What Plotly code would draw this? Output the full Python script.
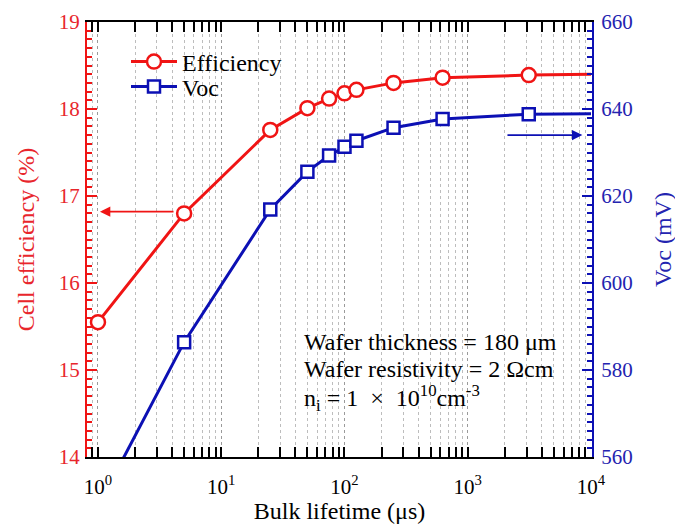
import plotly.graph_objects as go

# Data
lifetime = [1, 5, 25, 50, 75, 100, 125, 250, 625, 3125]
efficiency = [15.55, 16.80, 17.76, 18.01, 18.12, 18.18, 18.22, 18.30, 18.36, 18.39]
voc = [548.6, 586.4, 616.9, 625.6, 629.3, 631.3, 632.7, 635.7, 637.7, 638.8]
end_lifetime = 10000
end_efficiency = 18.40
end_voc = 638.9

x_tickvals = [1, 10, 100, 1000, 10000]
x_ticktext = ["10<sup>0</sup>", "10<sup>1</sup>", "10<sup>2</sup>", "10<sup>3</sup>", "10<sup>4</sup>"]

RED = "#f01414"
RED_T = "#e8262c"
BLUE = "#0c10b4"
BLUE_T = "#2424b0"
FONT = "Liberation Serif"

# page body has an 8px margin -> figure is drawn 8px right/down
L, T, R, B = 79, 14, 91, 67
W, H = 675, 516
PW, PH = W - L - R, H - T - B


def px_x(x):
    return (x - 8 - L) / PW


def px_y(y):
    return 1 - (y - 8 - T) / PH


fig = go.Figure()

# continuation lines to the right edge
fig.add_trace(go.Scatter(x=[lifetime[-1], end_lifetime], y=[efficiency[-1], end_efficiency],
                         mode="lines", line=dict(color=RED, width=3), showlegend=False, hoverinfo="skip"))
fig.add_trace(go.Scatter(x=[lifetime[-1], end_lifetime], y=[voc[-1], end_voc], yaxis="y2",
                         mode="lines", line=dict(color=BLUE, width=3), showlegend=False, hoverinfo="skip"))

fig.add_trace(go.Scatter(x=lifetime, y=efficiency, name="Efficiency", mode="lines+markers",
                         legend="legend",
                         line=dict(color=RED, width=3),
                         marker=dict(symbol="circle", size=14, color="white",
                                     line=dict(color=RED, width=2.5))))
fig.add_trace(go.Scatter(x=lifetime, y=voc, name="Voc", mode="lines+markers", yaxis="y2",
                         legend="legend2",
                         line=dict(color=BLUE, width=3),
                         marker=dict(symbol="square", size=12, color="white",
                                     line=dict(color=BLUE, width=2.5))))

leg_common = dict(xanchor="left", yanchor="middle", bgcolor="rgba(0,0,0,0)",
                  font=dict(size=24, color="black"), itemwidth=46)

fig.update_layout(
    width=W, height=H,
    margin=dict(l=L, r=R, t=T, b=B),
    paper_bgcolor="white", plot_bgcolor="white",
    font=dict(family=FONT, size=24, color="black"),
    showlegend=True,
    legend=dict(x=px_x(126), y=px_y(62), **leg_common),
    legend2=dict(x=px_x(126), y=px_y(87), **leg_common),
    xaxis=dict(
        type="log", range=[-0.089, 4.008], automargin=False,
        tickvals=x_tickvals, ticktext=x_ticktext,
        ticks="inside", ticklen=10, tickwidth=1.5, tickcolor="black",
        showline=True, linecolor="black", linewidth=2, mirror="allticks",
        showgrid=True, gridcolor="#9a9a9a", griddash="dot", gridwidth=1,
        minor=dict(ticks="inside", ticklen=6, tickwidth=1.5, tickcolor="black",
                   dtick="D1", showgrid=True, gridcolor="#bdbdbd", griddash="dot", gridwidth=1),
        tickfont=dict(size=21, color="black"),
        ticklabelstandoff=10,
        title=dict(text="Bulk lifetime (μs)", font=dict(size=24, color="black"), standoff=6),
        zeroline=False,
    ),
    yaxis=dict(
        range=[14, 19], dtick=1, automargin=False,
        ticks="inside", ticklen=10, tickwidth=1.5, tickcolor=RED,
        showline=True, linecolor=RED, linewidth=2,
        showgrid=False, zeroline=False,
        minor=dict(ticks="inside", dtick=0.1, ticklen=5, tickwidth=1.5, tickcolor=RED),
        tickfont=dict(size=21, color=RED_T),
        ticklabelstandoff=1,
        title=dict(text="Cell efficiency (%)", font=dict(size=24, color=RED_T), standoff=17),
    ),
    yaxis2=dict(
        overlaying="y", side="right", automargin=False,
        range=[560, 660], dtick=20,
        ticks="inside", ticklen=10, tickwidth=1.5, tickcolor=BLUE,
        showline=True, linecolor=BLUE, linewidth=2,
        showgrid=False, zeroline=False,
        minor=dict(ticks="inside", dtick=2, ticklen=5, tickwidth=1.5, tickcolor=BLUE),
        tickfont=dict(size=21, color=BLUE_T),
        ticklabelstandoff=3,
        title=dict(text="Voc (mV)", font=dict(size=24, color=BLUE_T), standoff=22),
    ),
)

# arrows pointing to the respective axes
fig.add_annotation(x=0.016, y=16.82, ax=0.625, ay=16.82, xref="x", yref="y", axref="x", ayref="y",
                   text="", showarrow=True, arrowhead=2, arrowsize=1.3, arrowwidth=1.6, arrowcolor=RED)
fig.add_annotation(x=3.93, y=634.0, ax=3.31, ay=634.0, xref="x", yref="y2", axref="x", ayref="y2",
                   text="", showarrow=True, arrowhead=2, arrowsize=1.3, arrowwidth=1.6, arrowcolor=BLUE)

# info text
info_lines = [
    "Wafer thickness = 180 μm",
    "Wafer resistivity = 2 Ωcm",
    "n<sub>i</sub> = 1  ×  10<sup>10</sup>cm<sup>-3</sup>",
]
info_y = [342, 369, 398]
for txt, py in zip(info_lines, info_y):
    fig.add_annotation(x=px_x(302), y=px_y(py), xref="paper", yref="paper",
                       text=txt, showarrow=False, xanchor="left", yanchor="middle",
                       font=dict(size=24, color="black"))

fig.write_html("out.html")
